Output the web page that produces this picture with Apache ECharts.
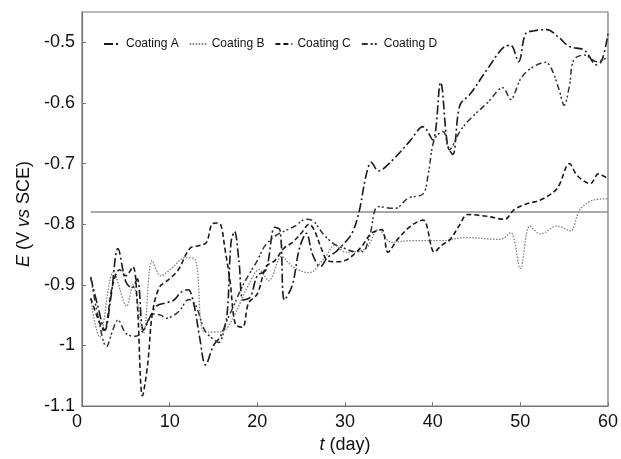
<!DOCTYPE html>
<html><head><meta charset="utf-8">
<script src="https://cdn.jsdelivr.net/npm/echarts@6/dist/echarts.min.js"></script>
<style>html,body{margin:0;padding:0;background:#fff}#c{width:621px;height:459px}</style>
</head><body><div id="c"></div>
<script>
var seriesNames = ['Coating A', 'Coating B', 'Coating C', 'Coating D'];
var xTicks = [0, 10, 20, 30, 40, 50, 60];
var yTicks = [-1.1, -1, -0.9, -0.8, -0.7, -0.6, -0.5];
var refLevel = -0.78;
var refDays = [1, 60];

var daysA = [1,1.8,2.6,3.3,4.1,5.0,5.7,6.3,7.0,7.7,8.5,9.5,10.5,11.3,12.1,12.8,13.4,14.1,15.0,15.8,16.5,17.0,17.4,17.9,18.4,19.2,20.0,21.0,22.0,22.6,23.1,24.0,24.8,25.6,26.3,27.2,28.0,29.0,30.0,30.8,31.6,32.4,33.0,33.8,35.3,37.4,38.9,40.0,40.9,41.7,42.3,43.1,44.3,46.2,48.2,48.9,49.8,50.6,51.6,53,54.4,55.6,57.3,58.7,59.3,60];
var valsA = [-0.888,-0.935,-0.975,-0.92,-0.840,-0.895,-0.905,-0.89,-0.975,-0.955,-0.935,-0.93,-0.925,-0.912,-0.908,-0.935,-0.985,-1.032,-1.0,-0.985,-0.955,-0.83,-0.812,-0.86,-0.925,-0.92,-0.885,-0.875,-0.805,-0.81,-0.925,-0.9,-0.84,-0.815,-0.85,-0.87,-0.855,-0.845,-0.83,-0.815,-0.78,-0.72,-0.698,-0.712,-0.696,-0.663,-0.639,-0.661,-0.566,-0.669,-0.685,-0.604,-0.585,-0.545,-0.507,-0.505,-0.532,-0.486,-0.481,-0.479,-0.492,-0.507,-0.513,-0.537,-0.53,-0.486];

var daysB = [1,2,3.6,5.1,5.8,7,8,9,10.2,11.8,12.9,14,16,17.2,19,20.2,21.3,22.8,24,25.9,27.7,28.9,30,32.3,33.8,35.3,37.5,41.3,43.6,47.7,48.9,50,51.1,52.3,54.2,55.7,56.8,58.4,60];
var valsB = [-0.924,-0.986,-0.879,-0.935,-0.900,-0.980,-0.860,-0.885,-0.873,-0.855,-0.858,-0.978,-0.977,-0.955,-0.900,-0.875,-0.893,-0.853,-0.870,-0.880,-0.855,-0.834,-0.846,-0.841,-0.809,-0.830,-0.827,-0.827,-0.822,-0.825,-0.814,-0.873,-0.803,-0.816,-0.803,-0.811,-0.776,-0.760,-0.758];

var daysC = [1,1.8,2.5,3.5,4.3,5.0,5.8,6.3,6.9,7.5,8.0,8.8,10,11,12.3,13.4,14.2,14.8,15.3,15.8,16.3,16.9,17.5,18.3,19.0,20.0,21.0,22.0,23.0,24.0,25.0,25.9,26.5,27.3,28.0,29,30,31,32,33,34.2,34.9,36,37.5,38.9,40.2,41,42,43,44,46.2,48.2,49.3,50.8,52.3,54.2,55.6,56.5,58,58.9,60];
var valsC = [-0.922,-0.955,-0.975,-0.90,-0.875,-0.885,-0.87,-0.93,-1.083,-1.03,-0.95,-0.905,-0.89,-0.875,-0.84,-0.835,-0.83,-0.80,-0.798,-0.80,-0.84,-0.895,-0.965,-0.97,-0.93,-0.915,-0.87,-0.86,-0.84,-0.83,-0.815,-0.80,-0.81,-0.84,-0.86,-0.862,-0.86,-0.85,-0.835,-0.815,-0.809,-0.846,-0.825,-0.803,-0.793,-0.846,-0.835,-0.825,-0.803,-0.784,-0.787,-0.792,-0.776,-0.766,-0.76,-0.741,-0.70,-0.72,-0.733,-0.717,-0.725];

var daysD = [1,1.8,2.8,3.5,4.1,5.0,6.0,7.0,8.1,9.0,9.6,10.5,11.1,12.2,13.0,14.0,15.0,15.6,16.5,17.2,18.2,19,20,20.9,22.1,23.3,24.3,25.5,26.4,27.4,28.1,29,30,31,32,32.8,33.8,35.7,37.2,38.9,39.5,40.2,41.2,41.9,43.1,44.3,46.3,48,48.9,50,51,52.9,53.6,54.4,55,55.6,56.1,57.3,58.7,60];
var valsD = [-0.887,-0.95,-1.002,-0.975,-0.958,-0.98,-0.985,-0.975,-0.948,-0.95,-0.955,-0.95,-0.943,-0.924,-0.935,-0.975,-0.99,-0.995,-0.96,-0.938,-0.905,-0.884,-0.86,-0.835,-0.819,-0.81,-0.803,-0.792,-0.795,-0.814,-0.825,-0.835,-0.84,-0.845,-0.845,-0.82,-0.771,-0.774,-0.757,-0.750,-0.717,-0.66,-0.647,-0.677,-0.647,-0.626,-0.599,-0.575,-0.594,-0.561,-0.545,-0.533,-0.545,-0.577,-0.604,-0.572,-0.529,-0.521,-0.532,-0.524];

function pairs(xs, ys) { return xs.map(function (x, i) { return [x, ys[i]]; }); }

var FONT = 'Liberation Sans, Arial, sans-serif';
var chart = echarts.init(document.getElementById('c'), null, {renderer: 'canvas'});
var styles = [
  {color: '#1a1a1a', width: 1.6, type: [9, 3, 2, 3]},
  {color: '#808080', width: 1.3, type: [1.5, 1.5]},
  {color: '#1a1a1a', width: 1.6, type: [5, 3]},
  {color: '#333333', width: 1.5, type: [6, 3, 2, 2, 2, 3]}
];
var allData = [pairs(daysA, valsA), pairs(daysB, valsB), pairs(daysC, valsC), pairs(daysD, valsD)];
var series = seriesNames.map(function (n, i) {
  return {
    name: n, type: 'line', data: allData[i], smooth: 0.35, showSymbol: false, symbol: 'none',
    lineStyle: styles[i], itemStyle: {color: styles[i].color}, z: 3 + i
  };
});
series.push({
  name: 'ref', type: 'line', data: refDays.map(function (d) { return [d, refLevel]; }),
  showSymbol: false, symbol: 'none', lineStyle: {color: '#8c8c8c', width: 1.5, type: 'solid'}, z: 2, silent: true
});

chart.setOption({
  animation: false,
  backgroundColor: '#fff',
  textStyle: {fontFamily: FONT},
  grid: {left: 82, right: 10, top: 12, bottom: 45, show: true, borderColor: '#777', borderWidth: 1.2},
  legend: {
    data: seriesNames, left: 98, top: 33, itemWidth: 17, itemHeight: 10, itemGap: 10,
    itemStyle: {opacity: 0},
    textStyle: {fontFamily: FONT, fontSize: 12, color: '#111'}
  },
  xAxis: {
    type: 'value', min: xTicks[0], max: xTicks[xTicks.length - 1], interval: 10,
    name: '{i|t} (day)', nameLocation: 'middle', nameGap: 19,
    nameTextStyle: {fontFamily: FONT, fontSize: 18, color: '#111', rich: {i: {fontStyle: 'italic', fontSize: 18, fontFamily: FONT, color: '#111'}}},
    axisLine: {lineStyle: {color: '#777', width: 1.2}},
    axisTick: {inside: true, length: 4, lineStyle: {color: '#777'}},
    axisLabel: {fontSize: 18, color: '#111', margin: 7, fontFamily: FONT, alignMinLabel: 'right'},
    splitLine: {show: false}
  },
  yAxis: {
    type: 'value', min: yTicks[0], max: -0.45, interval: 0.1,
    name: '{i|E} (V {i|vs} SCE)', nameLocation: 'middle', nameGap: 38,
    nameTextStyle: {fontFamily: FONT, fontSize: 18, color: '#111', padding: [0, 10, 0, 0], rich: {i: {fontStyle: 'italic', fontSize: 18, fontFamily: FONT, color: '#111'}}},
    axisLine: {lineStyle: {color: '#777', width: 1.2}},
    axisTick: {inside: true, length: 4, lineStyle: {color: '#777'}},
    axisLabel: {fontSize: 18, color: '#111', margin: 7, fontFamily: FONT, showMaxLabel: false,
      formatter: function (v) { return String(parseFloat(v.toFixed(2))); }},
    splitLine: {show: false}
  },
  series: series
});
</script></body></html>
